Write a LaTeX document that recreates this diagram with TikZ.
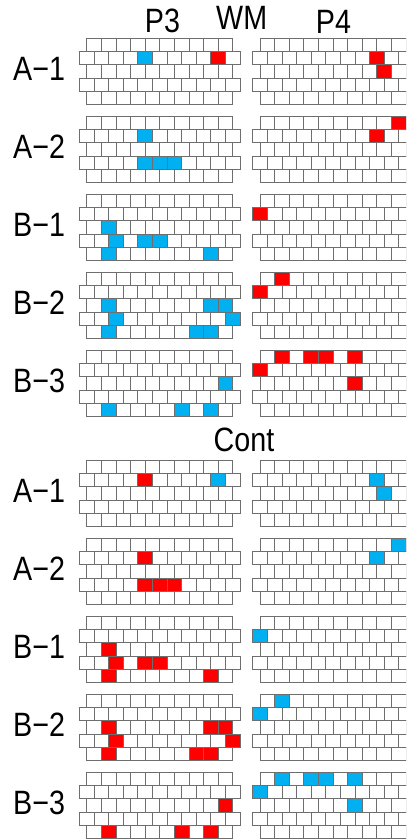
\documentclass[tikz,border=0pt]{standalone}
\usepackage{fontspec}
\setmainfont{Liberation Sans}[FakeStretch=0.85]
\usetikzlibrary{positioning,calc}

\definecolor{brickgray}{HTML}{6E6E6E}
\definecolor{cblue}{HTML}{00B0F0}
\definecolor{cred}{HTML}{FF0000}
% p = colour of the own hand, s = colour of the other one (WM, Cont)
\colorlet{hitp0}{cblue}
\colorlet{hits0}{cred}
\colorlet{hitp1}{cred}
\colorlet{hits1}{cblue}

\begin{document}
\begin{tikzpicture}[x=0.5mm,y=-0.5mm,
    brick/.style={draw=brickgray,line width=0.9pt,fill=white},
    title/.style={font=\fontsize{48}{56}\selectfont,inner sep=0pt,anchor=base},
    rowlabel/.style={font=\fontsize{48}{56}\selectfont,inner sep=0pt,anchor=base west}
]

\def \BW {14.6} % brick width
\def \BH {13.33} % brick height
\def \SHIFT {173.3} % distance P3 -> P4 wall
\def \GAP {78} % distance between two walls
\def \HALF {422} % WM block -> Cont block

\useasboundingbox (0,0) rectangle (406,839);
\clip (0,0) rectangle (406,839);

% Titles
\node[title] (p3) at (162.5,33) {P3};
\node[title] (wm) at (241.7,30) {WM};
\node[title] (p4) at (333.5,34) {P4};
\node[title] (cont) at (244,451.7) {Cont};

\foreach \sec in {0,1} {
    \foreach \k/\name in {0/A−1,1/A−2,2/B−1,3/B−2,4/B−3} {
        \pgfmathsetmacro \T {38+\k*\GAP+\sec*\HALF}
        \node[rowlabel] (lab\sec\k) at (13,\T+42.5) {\name};
        % brick walls, left (P3) and right (P4)
        \foreach \side in {0,1} {
            \foreach \r in {1,...,5} {
                \pgfmathtruncatemacro \nb {11-mod(\r,2)}
                \pgfmathsetmacro \xa {86.7+\side*\SHIFT-(1-mod(\r,2))*7.3}
                \foreach \b in {1,...,\nb} {
                    \draw[brick] ({\xa+(\b-1)*\BW},{\T+(\r-1)*\BH}) rectangle ++(\BW,\BH);
                }
            }
        }
    }
}

% coloured bricks: wall / side / row / brick / colour
\foreach \sec in {0,1} {
    \foreach \k/\s/\r/\b/\col in {%
        0/0/2/5/p, 0/0/2/10/s, 0/1/2/9/s, 0/1/3/9/s,
        1/0/2/5/p, 1/0/4/5/p, 1/0/4/6/p, 1/0/4/7/p, 1/1/1/10/s, 1/1/2/9/s,
        2/0/3/2/p, 2/0/4/3/p, 2/0/4/5/p, 2/0/4/6/p, 2/0/5/2/p, 2/0/5/9/p, 2/1/2/1/s,
        3/0/3/2/p, 3/0/3/9/p, 3/0/3/10/p, 3/0/4/3/p, 3/0/4/11/p, 3/0/5/2/p, 3/0/5/8/p, 3/0/5/9/p, 3/1/1/2/s, 3/1/2/1/s,
        4/0/3/10/p, 4/0/5/2/p, 4/0/5/7/p, 4/0/5/9/p, 4/1/1/2/s, 4/1/1/4/s, 4/1/1/5/s, 4/1/1/7/s, 4/1/2/1/s, 4/1/3/7/s%
    } {
        \pgfmathsetmacro \T {38+\k*\GAP+\sec*\HALF}
        \pgfmathsetmacro \xa {86.7+\s*\SHIFT-(1-mod(\r,2))*7.3}
        \draw[brick,fill=hit\col\sec] ({\xa+(\b-1)*\BW},{\T+(\r-1)*\BH}) rectangle ++(\BW,\BH);
    }
}

\end{tikzpicture}
\end{document}
